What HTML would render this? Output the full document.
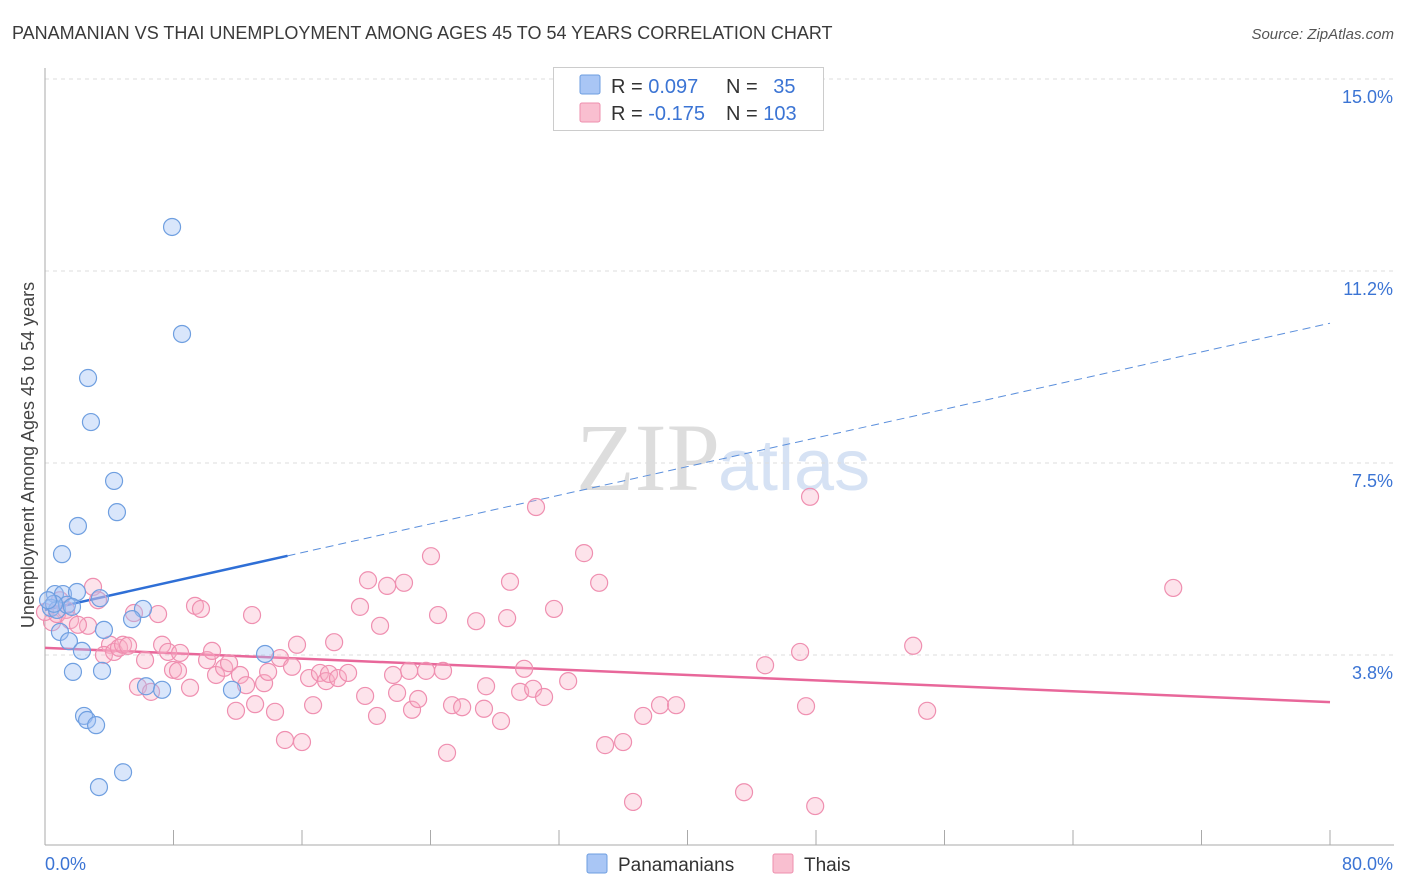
<!DOCTYPE html>
<html><head><meta charset="utf-8"><style>
body{margin:0;background:#fff;font-family:"Liberation Sans",sans-serif;}
svg{display:block}
</style></head><body>
<svg id="chart" width="1406" height="892" viewBox="0 0 1406 892">
<text x="12" y="39" font-size="18" fill="#3a3a3a">PANAMANIAN VS THAI UNEMPLOYMENT AMONG AGES 45 TO 54 YEARS CORRELATION CHART</text>
<text x="1394" y="39" font-size="15" fill="#555" font-style="italic" text-anchor="end">Source: ZipAtlas.com</text>
<text x="720" y="490" font-size="96" font-family="Liberation Serif,serif" fill="#ddd" text-anchor="end">ZIP</text>
<text x="718" y="490" font-size="72" fill="#d6e2f4">atlas</text>
<text transform="translate(34,455) rotate(-90)" font-size="18" fill="#444" text-anchor="middle">Unemployment Among Ages 45 to 54 years</text>
<g id="grid"></g><g id="axes"></g><g id="lines"></g><g id="pts"></g>
<g>
<rect x="553.5" y="67.5" width="270" height="63" fill="#fff" stroke="#ccc"/>
<rect x="580" y="75" width="20" height="19" fill="#a9c6f5" stroke="#6d9ee0" rx="2"/>
<rect x="580" y="103" width="20" height="19" fill="#f9bfd0" stroke="#ee8fae" rx="2"/>
<text x="611" y="93" font-size="20" fill="#333">R = <tspan fill="#3b74d4">0.097</tspan></text>
<text x="726" y="93" font-size="20" fill="#333">N = <tspan fill="#3b74d4" dx="10">35</tspan></text>
<text x="611" y="120" font-size="20" fill="#333">R = <tspan fill="#3b74d4">-0.175</tspan></text>
<text x="726" y="120" font-size="20" fill="#333">N = <tspan fill="#3b74d4">103</tspan></text>
</g>
<g>
<rect x="587" y="854" width="20" height="19" fill="#a9c6f5" stroke="#6d9ee0" rx="2"/>
<text x="618" y="871" font-size="19" fill="#333">Panamanians</text>
<rect x="773" y="854" width="20" height="19" fill="#f9bfd0" stroke="#ee8fae" rx="2"/>
<text x="804" y="871" font-size="19" fill="#333">Thais</text>
</g>
</svg>
<script>
const blueX=[7.91,8.53,2.68,2.86,4.30,4.48,2.05,1.06,0.62,1.12,1.99,3.42,0.37,0.75,1.37,0.56,1.68,6.10,5.42,0.93,1.49,3.67,2.30,1.74,3.55,6.29,7.29,11.64,13.70,2.43,2.62,3.18,4.86,3.36,0.19];
const blueY=[12.11,10.02,9.16,8.30,7.15,6.54,6.27,5.72,4.94,4.94,4.98,4.86,4.67,4.63,4.73,4.75,4.69,4.65,4.45,4.20,4.02,4.24,3.83,3.42,3.44,3.14,3.07,3.07,3.77,2.56,2.48,2.38,1.46,1.17,4.82];
const pinkX=[0.44,0.75,0.93,1.31,1.56,2.68,2.99,3.30,4.05,3.67,4.30,4.61,4.86,5.17,5.79,6.23,6.60,7.04,5.54,7.29,7.66,7.97,8.41,8.28,9.03,9.34,9.71,10.09,10.40,10.65,11.15,11.46,11.89,12.14,12.52,12.89,13.08,13.64,13.89,14.32,14.63,14.94,15.38,15.69,16.00,16.44,16.69,17.12,17.50,18.00,17.68,18.24,18.87,19.61,19.93,20.11,20.67,20.86,21.30,21.67,21.92,22.35,22.67,22.85,23.23,23.72,24.03,24.47,24.78,25.03,25.34,25.97,26.84,27.33,27.46,28.39,28.77,28.95,29.58,29.83,30.39,30.57,31.07,31.69,32.57,33.56,34.50,34.87,35.99,36.61,37.24,38.29,39.29,43.52,44.83,47.01,47.38,47.63,47.95,54.05,54.92,70.24,0.00,2.05];
const pinkY=[4.39,4.55,4.82,4.63,4.43,4.32,5.08,4.82,3.95,3.75,3.81,3.89,3.95,3.93,3.13,3.65,3.03,4.55,4.57,3.95,3.81,3.46,3.79,3.44,3.11,4.71,4.65,3.65,3.83,3.36,3.50,3.59,2.66,3.36,3.16,4.53,2.79,3.20,3.42,2.64,3.69,2.09,3.52,3.95,2.05,3.30,2.77,3.40,3.24,4.00,3.38,3.30,3.40,4.69,2.95,5.21,2.56,4.32,5.10,3.36,3.01,5.16,3.44,2.68,2.89,3.44,5.68,4.53,3.44,1.84,2.77,2.73,4.41,2.70,3.14,2.46,4.47,5.18,3.03,3.48,3.09,6.64,2.93,4.65,3.24,5.74,5.16,1.99,2.05,0.88,2.56,2.77,2.77,1.07,3.55,3.81,2.75,6.84,0.80,3.93,2.66,5.06,4.59,4.34];
const yTicks=[3.75,7.5,11.25,15];
const yTickLabels=["3.8%","7.5%","11.2%","15.0%"];
const xTicks=[0,8,16,24,32,40,48,56,64,72,80];
const blueTrend=[4.63,10.23]; // value at x=0 and x=80
const blueSolidEnd=15.1;
const pinkTrend=[3.89,2.83];
const NS="http://www.w3.org/2000/svg";
const sx=v=>45+v*(1285/80), sy=v=>847-v*51.2;
function mk(tag,attrs,parent){const e=document.createElementNS(NS,tag);for(const k in attrs)e.setAttribute(k,attrs[k]);document.getElementById(parent).appendChild(e);return e;}
yTicks.forEach((t,i)=>{
 const g=mk('line',{x1:45,x2:1394,y1:sy(t),y2:sy(t),stroke:'#ddd','stroke-dasharray':'4,4'},'grid');
 
 
 const tx=mk('text',{x:1393,y:sy(t)+24,'font-size':18,fill:'#3b74d4','text-anchor':'end'},'axes');
 tx.textContent=yTickLabels[i];
 
 
});
const ax=mk('line',{x1:45,x2:1394,y1:845,y2:845,stroke:'#aaa'},'axes');


const ay=mk('line',{x1:45,x2:45,y1:68,y2:845,stroke:'#aaa'},'axes');


xTicks.forEach(t=>{
 const l=mk('line',{x1:sx(t),x2:sx(t),y1:830,y2:845,stroke:'#aaa'},'axes');
 
 
});
const xl0=mk('text',{x:45,y:870,'font-size':18,fill:'#3b74d4'},'axes');xl0.textContent=xTicks[0].toFixed(1)+"%";


const xl1=mk('text',{x:1393,y:870,'font-size':18,fill:'#3b74d4','text-anchor':'end'},'axes');xl1.textContent=xTicks[xTicks.length-1].toFixed(1)+"%";


const by=x=>blueTrend[0]+(blueTrend[1]-blueTrend[0])*x/80;
const bs=mk('line',{x1:sx(0),y1:sy(by(0)),x2:sx(blueSolidEnd),y2:sy(by(blueSolidEnd)),stroke:'#2f6fd6','stroke-width':2.5},'lines');


const bd=mk('line',{x1:sx(blueSolidEnd),y1:sy(by(blueSolidEnd)),x2:sx(80),y2:sy(by(80)),stroke:'#5b8fdc','stroke-width':1,'stroke-dasharray':'8,5'},'lines');


const pl=mk('line',{x1:sx(0),y1:sy(pinkTrend[0]),x2:sx(80),y2:sy(pinkTrend[1]),stroke:'#e8679a','stroke-width':2.5},'lines');


pinkX.forEach((x,i)=>{
 const c=mk('circle',{cx:sx(x),cy:sy(pinkY[i]),r:8.5,fill:'rgba(248,175,198,0.35)',stroke:'#ef8fb0','stroke-width':1.2},'pts');
 
 
});
blueX.forEach((x,i)=>{
 const c=mk('circle',{cx:sx(x),cy:sy(blueY[i]),r:8.5,fill:'rgba(160,192,245,0.4)',stroke:'#6f9fe0','stroke-width':1.2},'pts');
 
 
});
</script>
</body></html>
